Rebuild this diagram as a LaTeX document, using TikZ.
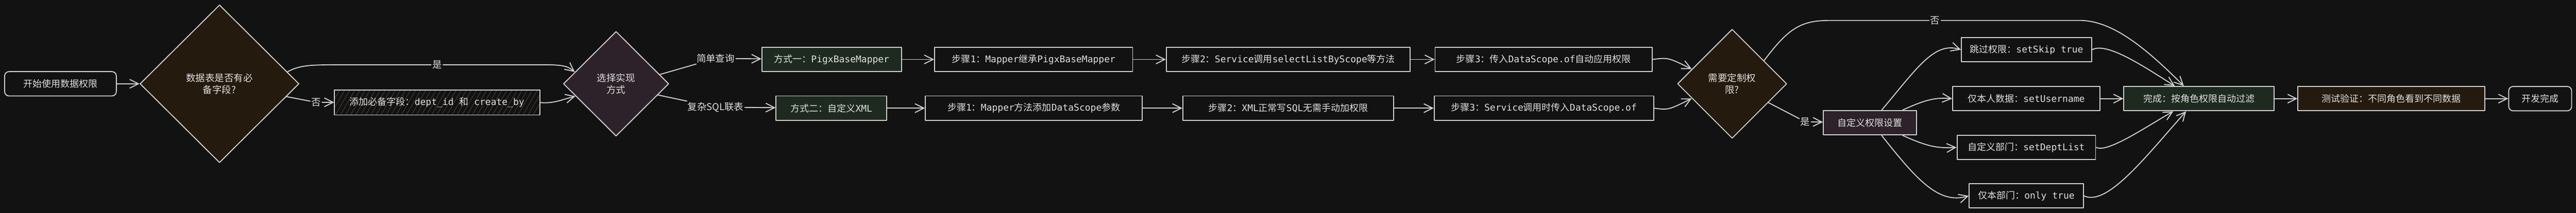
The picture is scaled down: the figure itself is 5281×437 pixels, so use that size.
\documentclass[tikz,border=0pt]{standalone}
\usepackage{fontspec}
\setmainfont{Noto Sans CJK SC}
\setmonofont{DejaVu Sans Mono}
\usepackage{tikz}
\usetikzlibrary{calc}
\usetikzlibrary{arrows.meta}
\usetikzlibrary{shapes.geometric}
\usetikzlibrary{patterns.meta}

\definecolor{bgdark}{HTML}{121212}
\definecolor{linegray}{HTML}{D0D0D0}
\definecolor{txtgray}{HTML}{E0E0E0}
\definecolor{fillbrown}{HTML}{241A0D}
\definecolor{fillpurple}{HTML}{2D2229}
\definecolor{fillgreen}{HTML}{1E2A20}
\definecolor{hatchbrown}{HTML}{5A4A3E}

\newcommand{\code}[1]{\texttt{#1}}

\begin{document}
\begin{tikzpicture}[x=1pt, y=-1pt, line cap=round, line join=round,
    >={Straight Barb[length=18pt,width=18pt]},
    every path/.style={line width=2pt},
    stepbox/.style={draw=linegray, line width=2pt, minimum height=50pt, inner sep=0pt,
      text=txtgray, font=\fontsize{19}{23}\selectfont},
    terminal/.style={stepbox, rounded corners=9pt},
    decision/.style={diamond, aspect=1, draw=linegray, line width=2pt, inner sep=0pt,
      align=center, text=txtgray, font=\fontsize{19.5}{25}\selectfont},
    lbl/.style={fill=bgdark, inner sep=1.5pt, text=txtgray, font=\fontsize{19.5}{23}\selectfont},
    link/.style={draw=linegray, line width=2pt}]
  %--- Background
    \fill[bgdark] (0,0) rectangle (5281,437);
    \useasboundingbox (0,0) rectangle (5281,437);
  %--- Start and field check
    \node[terminal, minimum width=229pt] (start) at (124,172) {开始使用数据权限};
    \node[decision, fill=fillbrown, minimum width=326pt, minimum height=324pt] (hasfield) at (450,172) {数据表是否有必\\备字段?};
    \node[stepbox, minimum width=421pt, minimum height=51pt, fill=bgdark,
      pattern={Lines[angle=60,distance=9pt,line width=0.8pt]}, pattern color=hatchbrown] (addfield) at (896,210.5)
      {添加必备字段：\code{dept\_id }和\code{ create\_by}};
    \node[decision, fill=fillpurple, minimum width=216pt, minimum height=215pt] (choose) at (1263,172) {选择实现\\方式};
  %--- Way one
    \node[stepbox, fill=fillgreen, minimum width=286pt] (wayone) at (1705,122) {方式一：\code{PigxBaseMapper}};
    \node[stepbox, minimum width=406pt] (oneA) at (2119,122) {步骤\code{1}：\code{Mapper}继承\code{PigxBaseMapper}};
    \node[stepbox, minimum width=500pt] (oneB) at (2641,122) {步骤\code{2}：\code{Service}调用\code{selectListByScope}等方法};
    \node[stepbox, minimum width=445pt] (oneC) at (3164.5,122) {步骤\code{3}：传入\code{DataScope.of}自动应用权限};
  %--- Way two
    \node[stepbox, fill=fillgreen, minimum width=227pt] (waytwo) at (1704.5,222) {方式二：自定义\code{XML}};
    \node[stepbox, minimum width=445pt] (twoA) at (2119.5,222) {步骤\code{1}：\code{Mapper}方法添加\code{DataScope}参数};
    \node[stepbox, minimum width=432pt] (twoB) at (2641,222) {步骤\code{2}：\code{XML}正常写\code{SQL}无需手动加权限};
    \node[stepbox, minimum width=450pt] (twoC) at (3165,222) {步骤\code{3}：\code{Service}调用时传入\code{DataScope.of}};
  %--- Custom check
    \node[decision, fill=fillbrown, minimum width=224pt, minimum height=224pt] (needcustom) at (3551,172) {需要定制权\\限?};
    \node[stepbox, fill=fillpurple, minimum width=191pt] (custom) at (3833.5,252) {自定义权限设置};
    \node[stepbox, minimum width=267pt] (skip) at (4154.5,102) {跳过权限：\code{setSkip true}};
    \node[stepbox, minimum width=302pt] (self) at (4154,202.5) {仅本人数据：\code{setUsername}};
    \node[stepbox, minimum width=284pt] (dept) at (4154,302.5) {自定义部门：\code{setDeptList}};
    \node[stepbox, minimum width=234pt] (own) at (4154,402) {仅本部门：\code{only true}};
  %--- Finish
    \node[stepbox, fill=fillgreen, minimum width=308pt] (done) at (4508,202.5) {完成：按角色权限自动过滤};
    \node[stepbox, fill=fillbrown, minimum width=383pt] (test) at (4902.5,202.5) {测试验证：不同角色看到不同数据};
    \node[terminal, minimum width=129pt] (finish) at (5207.5,202.5) {开发完成};
  %--- Edge labels
    \node[lbl] (yesA) at (896,133) {是};
    \node[lbl] (noA) at (648,210) {否};
    \node[lbl] (simple) at (1467,120) {简单查询};
    \node[lbl] (complex) at (1467,220) {复杂SQL联表};
    \node[lbl] (noB) at (3967,42) {否};
    \node[lbl] (yesB) at (3701,250) {是};
  %--- Field check arrows
    \draw[link, ->] (start) -- (hasfield);
    \draw[link] (hasfield.10) .. controls (615,133) and (640,133) .. (700,133) -- (yesA);
    \draw[link, ->] (yesA) -- (1120,133) .. controls (1160,133) and (1166,138) .. (choose.164);
    \draw[link] (hasfield) -- (noA);
    \draw[link, ->] (noA) -- (addfield);
    \draw[link, ->] (addfield.east) .. controls (1135,213) and (1150,205) .. (choose.197);
  %--- Way arrows
    \draw[link] (choose.12) -- (simple);
    \draw[link, ->] (simple) -- (wayone);
    \draw[link] (choose.-15) -- (complex);
    \draw[link, ->] (complex) -- (waytwo);
    \draw[link, ->] (wayone) -- (oneA);
    \draw[link, ->] (oneA) -- (oneB);
    \draw[link, ->] (oneB) -- (oneC);
    \draw[link, ->] (waytwo) -- (twoA);
    \draw[link, ->] (twoA) -- (twoB);
    \draw[link, ->] (twoB) -- (twoC);
    \draw[link, ->] (oneC.east) .. controls (3420,118) .. (needcustom.160);
    \draw[link, ->] (twoC.east) .. controls (3420,226) .. (needcustom.200);
  %--- Custom arrows
    \draw[link] (needcustom.36) .. controls (3665,60) and (3690,42) .. (3750,42) -- (noB);
    \draw[link, ->] (noB) -- (4260,42) .. controls (4330,40) and (4400,100) .. ($(done.north west)!0.4!(done.north east)$);
    \draw[link] (needcustom) -- (yesB);
    \draw[link, ->] (yesB) -- (custom);
    \draw[link, ->] ([xshift=24pt]custom.north) .. controls (3930,140) and (3965,85) .. (skip.west);
    \draw[link, ->] ([xshift=67pt]custom.north) .. controls (3950,203) and (3970,200) .. (self.west);
    \draw[link, ->] ([xshift=67pt]custom.south) .. controls (3950,300) and (3970,305) .. (dept.west);
    \draw[link, ->] ([xshift=24pt]custom.south) .. controls (3930,370) and (3975,420) .. (own.west);
  %--- Finish arrows
    \draw[link, ->] (skip.east) .. controls (4320,85) and (4400,140) .. ($(done.north west)!0.34!(done.north east)$);
    \draw[link, ->] (self) -- (done);
    \draw[link, ->] (dept.east) .. controls (4320,315) and (4400,260) .. ($(done.south west)!0.33!(done.south east)$);
    \draw[link, ->] (own.east) .. controls (4320,425) and (4400,320) .. ($(done.south west)!0.415!(done.south east)$);
    \draw[link, ->] (done) -- (test);
    \draw[link, ->] (test) -- (finish);
  \end{tikzpicture}
\end{document}
